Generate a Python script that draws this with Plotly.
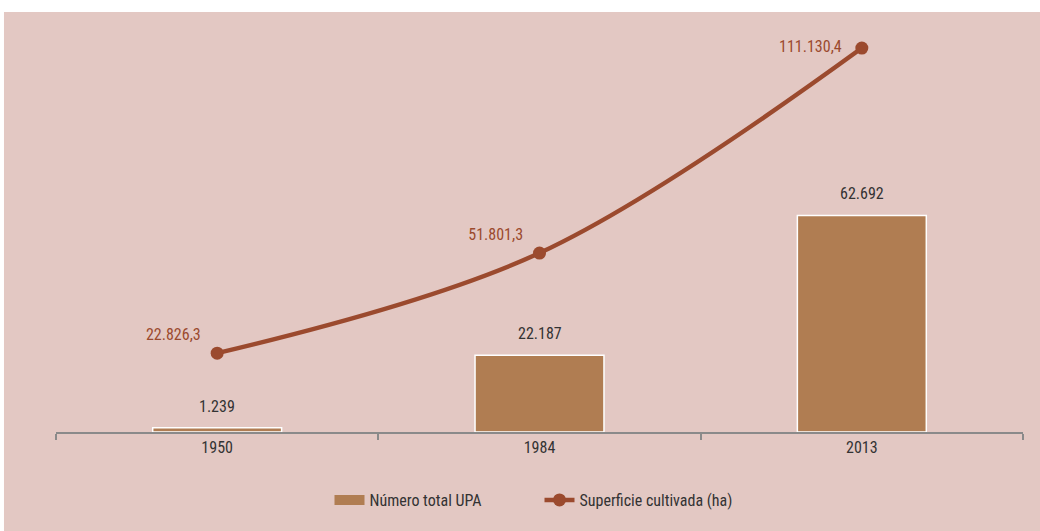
import plotly.graph_objects as go

years = ["1950", "1984", "2013"]
upa_total = [1239, 22187, 62692]
superficie_ha = [22826.3, 51801.3, 111130.4]

FONT = "Liberation Sans Narrow, Roboto Condensed, Arial Narrow, sans-serif"
BAR_C = "#B07D52"
LINE_C = "#9B4A2E"
BG = "#E3C8C3"
NB = "\u00a0"

fig = go.Figure()
fig.add_trace(go.Bar(
    x=years, y=upa_total, name="Número total UPA",
    marker=dict(color=BAR_C, line=dict(color="white", width=1.5)),
    width=0.4, showlegend=False,
))
# legend proxy giving a wide rectangular swatch like the reference
fig.add_trace(go.Scatter(
    x=[years[0]], y=[None], name="Número total UPA", mode="lines",
    line=dict(color=BAR_C, width=11),
))
fig.add_trace(go.Scatter(
    x=years, y=superficie_ha, name="Superficie cultivada (ha)",
    mode="lines+markers+text",
    line=dict(color=LINE_C, width=4.5, shape="spline", smoothing=1.0),
    marker=dict(color=LINE_C, size=13),
    texttemplate=["%{y:,.1f}" + NB * 2, "%{y:,.1f}" + NB * 2, "%{y:,.1f}" + NB * 3],
    textposition=["top left", "top left", "middle left"],
    textfont=dict(color=LINE_C, size=16, family=FONT),
))

for i, v in enumerate(upa_total):
    fig.add_annotation(x=i, y=v, xref="x", yref="y",
                       text=f"{v:,}".replace(",", "."),
                       showarrow=False, yanchor="bottom", yshift=10,
                       font=dict(color="#333333", size=16, family=FONT))

fig.add_shape(type="rect", xref="paper", yref="paper",
              x0=-0.0538, x1=1.02, y0=-0.25, y1=1.0194,
              fillcolor=BG, line=dict(width=0), layer="below")

fig.update_layout(
    width=1040, height=531,
    margin=dict(l=56, r=17, t=20, b=99),
    paper_bgcolor="white", plot_bgcolor=BG,
    separators=",.",
    font=dict(family=FONT, size=15, color="#333333"),
    showlegend=True,
    legend=dict(orientation="h", x=0.5, xanchor="center", y=-0.165, yanchor="middle",
                font=dict(size=16, family=FONT, color="#333333"),
                bgcolor="rgba(0,0,0,0)", itemwidth=30, entrywidth=165,
                tracegroupgap=0),
    bargap=0.6,
)
fig.update_xaxes(type="category", categoryorder="array", categoryarray=years,
                 range=[-0.5, 2.5], autorange=False,
                 showline=True, linecolor="#8A8A8A", linewidth=2,
                 ticks="outside", tickson="boundaries", ticklen=6,
                 tickcolor="#8A8A8A", tickwidth=2,
                 tickfont=dict(size=16, family=FONT, color="#333333"),
                 showgrid=False, tickangle=0)
fig.update_yaxes(range=[0, 119250], autorange=False, visible=False,
                 showgrid=False, zeroline=False)

fig.write_html("out.html", config={"displayModeBar": False},
               post_script="document.body.style.margin='0';document.body.style.overflow='hidden';")
